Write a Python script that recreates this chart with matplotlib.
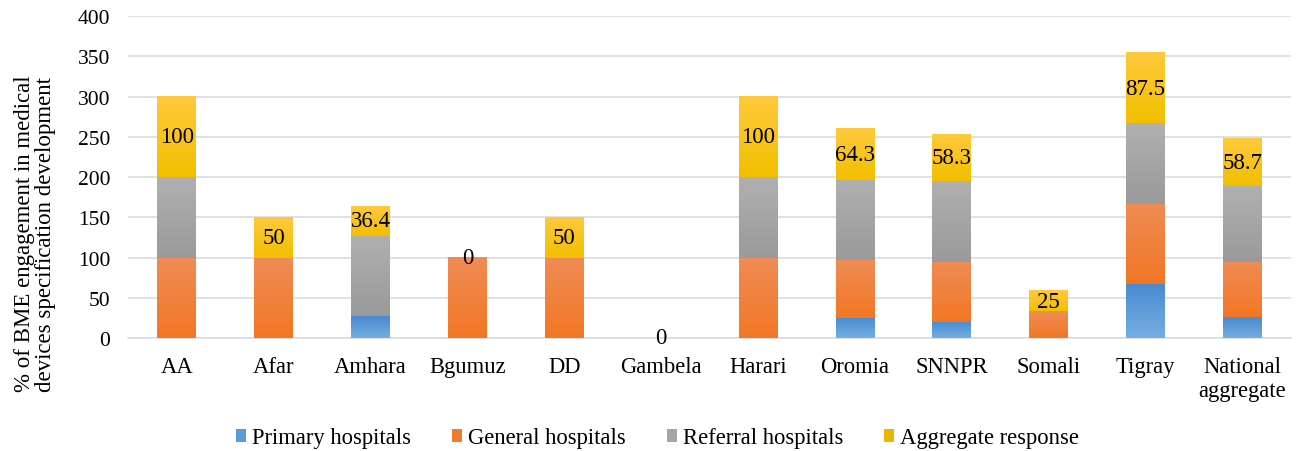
import numpy as np
import matplotlib
matplotlib.use("Agg")
import matplotlib.pyplot as plt
from matplotlib.colors import LinearSegmentedColormap
from matplotlib.patches import Patch

plt.rcParams['font.family'] = ['Liberation Serif', 'DejaVu Serif']

regions = ['AA', 'Afar', 'Amhara', 'Bgumuz', 'DD', 'Gambela', 'Harari',
           'Oromia', 'SNNPR', 'Somali', 'Tigray', 'National\naggregate']
primary = [0, 0, 27.3, 0, 0, 0, 0, 25, 20, 0, 66.7, 25.7]
general = [100, 100, 0, 100, 100, 0, 100, 71.4, 75, 33.3, 100, 69.1]
referral = [100, 0, 100, 0, 0, 0, 100, 100, 100, 0, 100, 93.6]
aggregate = [100, 50, 36.4, 0, 50, 0, 100, 64.3, 58.3, 25, 87.5, 58.7]
agg_labels = ['100', '50', '36.4', '0', '50', '0', '100', '64.3', '58.3', '25', '87.5', '58.7']

series = [('Primary hospitals', primary, '#5B9BD5', ('#4A8AD0', '#74AEE2')),
          ('General hospitals', general, '#ED7D31', ('#EF8C55', '#F27725')),
          ('Referral hospitals', referral, '#A5A5A5', ('#B0B0B0', '#9A9A9A')),
          ('Aggregate response', aggregate, '#E8B800', ('#FFC93C', '#F2BF00'))]

fig = plt.figure(figsize=(13.02, 4.52), dpi=100)
ax = fig.add_axes([0.0985, 0.25, 0.893, 0.712])

x = np.arange(len(regions))
width = 0.4
ax.set_xlim(-0.5, len(regions) - 0.5)
ax.set_ylim(0, 400)

bottom = np.zeros(len(regions))
handles = []
for name, vals, solid, (ctop, cbot) in series:
    vals = np.array(vals, dtype=float)
    cmap = LinearSegmentedColormap.from_list(name, [cbot, ctop])
    grad = np.linspace(0, 1, 64).reshape(-1, 1)
    for i in range(len(regions)):
        if vals[i] <= 0:
            continue
        y0, y1 = bottom[i], bottom[i] + vals[i]
        ax.imshow(grad, cmap=cmap, origin='lower', aspect='auto',
                  extent=(x[i] - width / 2, x[i] + width / 2, y0, y1), zorder=3)
    bottom += vals
    handles.append(Patch(facecolor=solid, label=name))

# labels on the aggregate segment
for i in range(len(regions)):
    top = bottom[i]
    mid = top - aggregate[i] / 2
    ax.text(x[i], mid, agg_labels[i], ha='center', va='center', fontsize=16.5, zorder=5)

ax.set_xlim(-0.5, len(regions) - 0.5)
ax.set_ylim(0, 400)
ax.set_yticks(np.arange(0, 401, 50))
ax.set_xticks(x)
ax.set_xticklabels(regions, fontsize=16.3, linespacing=1.2)
ax.tick_params(axis='y', labelsize=15.5, length=0, pad=13)
ax.tick_params(axis='x', length=0, pad=13)
ax.grid(axis='y', color='#D9DCE3', linewidth=1.2, zorder=0)
ax.set_axisbelow(True)
for s in ['top', 'right', 'left']:
    ax.spines[s].set_visible(False)
ax.spines['bottom'].set_color('#D9DCE3')
ax.spines['bottom'].set_linewidth(1.2)

fig.text(35 / 1302, 1 - 234 / 452,
         '% of BME engagement in medical\ndevices specification development',
         rotation=90, ha='center', va='center', fontsize=16.5,
         multialignment='center', linespacing=1.05)

fig.legend(handles=handles, loc='center', ncol=4, frameon=False,
           fontsize=16.3, bbox_to_anchor=(0.505, 1 - 439 / 452), handlelength=0.45,
           handleheight=0.45, handletextpad=0.27, columnspacing=1.8)

fig.savefig('out.png', dpi=100)
